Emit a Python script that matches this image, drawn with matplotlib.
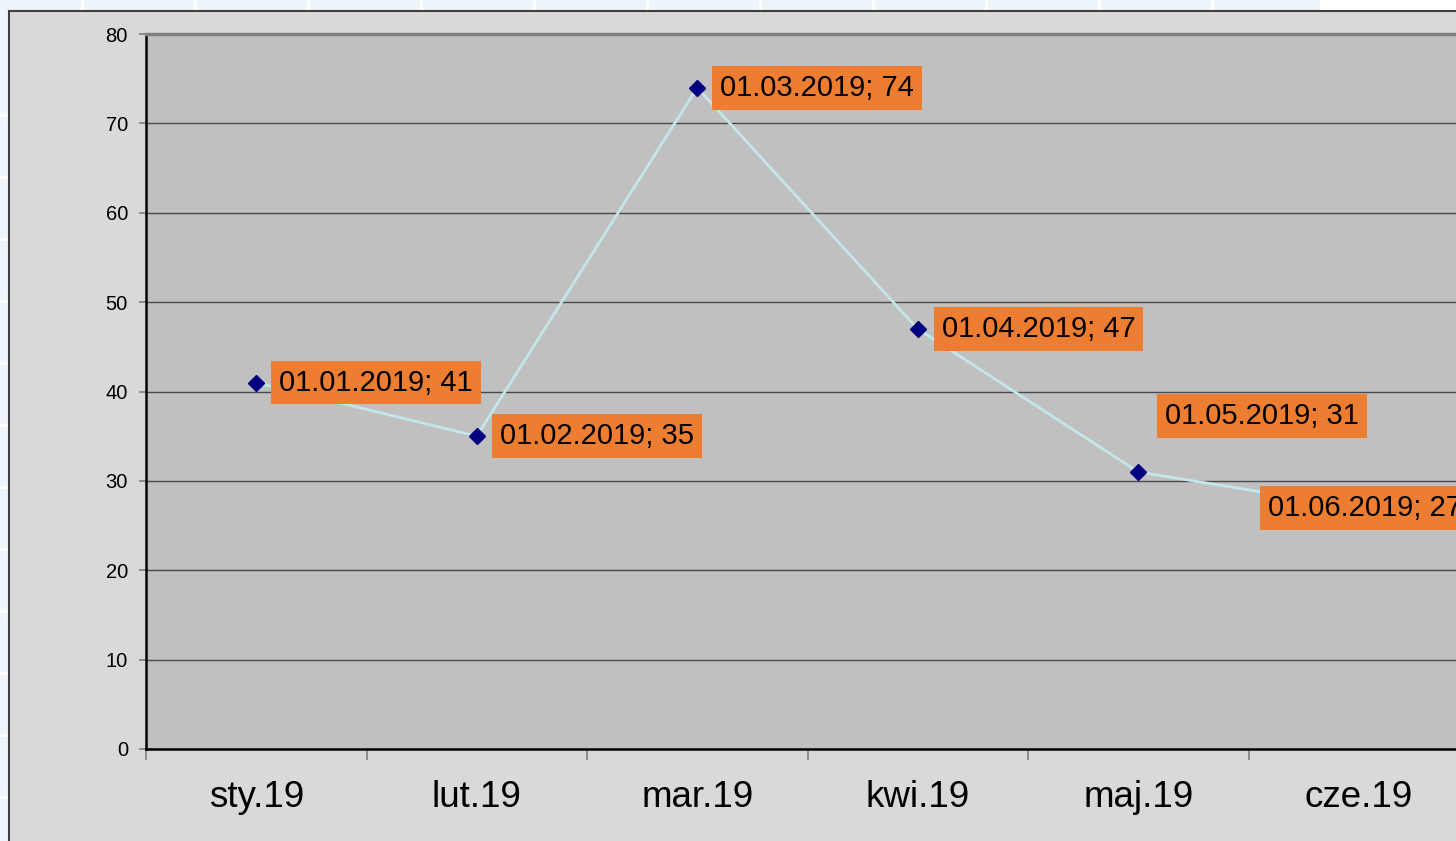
import matplotlib
matplotlib.use('Agg')
import matplotlib.pyplot as plt
from matplotlib.patches import Rectangle
from matplotlib.lines import Line2D

plt.rcParams['font.family'] = ['Liberation Sans', 'DejaVu Sans']

# data
months = ['sty.19', 'lut.19', 'mar.19', 'kwi.19', 'maj.19', 'cze.19']
dates = ['01.01.2019', '01.02.2019', '01.03.2019', '01.04.2019', '01.05.2019', '01.06.2019']
values = [41, 35, 74, 47, 31, 27]
# label offsets in pixels (excel placed them by hand)
label_offsets = [(23, 0), (23, 0), (23, 0), (24, 0), (27, 56), (-91, 0)]

W, H = 1456, 841
fig = plt.figure(figsize=(W / 100, H / 100), dpi=100)
fig.patch.set_facecolor('#eef5fa')

# spreadsheet cell lines behind the chart object
for x in range(82, 1330, 113):
    fig.add_artist(Line2D([x / W, x / W], [1 - 11 / H, 1], color='white', lw=2, zorder=-3))
for y in range(115, 841, 62):
    fig.add_artist(Line2D([0, 9 / W], [1 - y / H, 1 - y / H], color='white', lw=2, zorder=-3))
fig.add_artist(Rectangle((1320 / W, 1 - 11 / H), 1, 11 / H, facecolor='white',
                         edgecolor='none', zorder=-3))

# chart area
fig.add_artist(Rectangle((9 / W, -0.1), 1.2, 1.1 - 11 / H, facecolor='#d9d9d9',
                         edgecolor='#404040', lw=1.5, zorder=-2))

ax = fig.add_axes([146 / W, 92 / H, 1323 / W, 715 / H])
ax.set_facecolor('#c0c0c0')

xs = list(range(len(months)))
ax.plot(xs, values, color='#c4e6ea', lw=2, zorder=3)
ax.plot(xs, values, 'D', color='#000080', ms=8, zorder=4, clip_on=False)

for i in xs:
    dx, dy = label_offsets[i]
    ax.annotate('%s; %d' % (dates[i], values[i]), (xs[i], values[i]),
                xytext=(dx, dy), textcoords='offset pixels', ha='left', va='center',
                fontsize=21, color='black', zorder=5, annotation_clip=False,
                bbox=dict(boxstyle='square,pad=0.27', facecolor='#ed7d31', edgecolor='none'))

ax.set_xlim(-0.5, 5.5)
ax.set_ylim(0, 80)
ax.set_yticks(range(0, 81, 10))
ax.yaxis.grid(True, color='#4a4a4a', lw=1)
ax.set_axisbelow(True)

ax.set_xticks(xs)
ax.set_xticklabels(months, fontsize=26.5)
ax.set_xticks([x - 0.5 for x in xs] + [5.5], minor=True)
ax.tick_params(axis='x', which='major', length=0, pad=22)
ax.tick_params(axis='x', which='minor', length=8, color='#808080', width=1.2)
ax.tick_params(axis='y', length=5, color='#808080', width=1.2, labelsize=14.5, pad=8)

ax.spines['left'].set_color('black')
ax.spines['left'].set_linewidth(1.8)
ax.spines['bottom'].set_color('black')
ax.spines['bottom'].set_linewidth(1.8)
ax.spines['top'].set_color('#808080')
ax.spines['top'].set_linewidth(2.5)
ax.spines['right'].set_visible(False)

fig.savefig('out.png', dpi=100, facecolor=fig.get_facecolor())
